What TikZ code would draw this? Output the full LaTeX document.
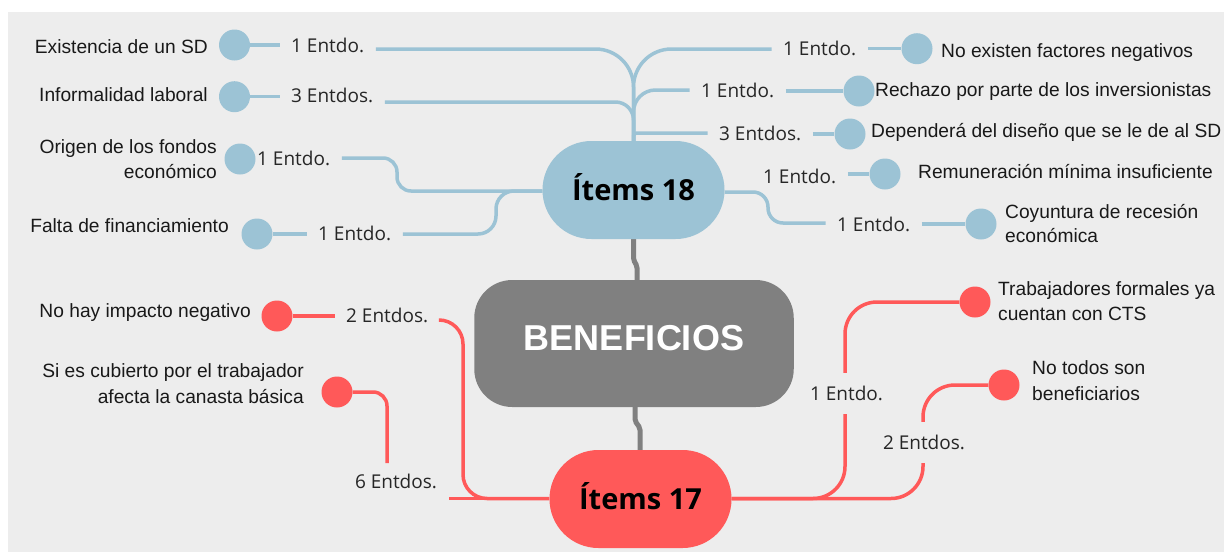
\documentclass[tikz,border=0pt]{standalone}
\usepackage{fontspec}
\setmainfont{Liberation Sans}
\newfontfamily\osans{Open Sans}
\usetikzlibrary{calc}
\definecolor{bgc}{HTML}{EDEDED}
\definecolor{blu}{HTML}{9CC3D5}
\definecolor{redc}{HTML}{FF5959}
\definecolor{gry}{HTML}{808080}
\pgfdeclarelayer{back}
\pgfsetlayers{back,main}
\begin{document}
\begin{tikzpicture}[x=1pt,y=-1pt,
  txt/.style={font=\fontsize{19.2}{25}\selectfont, inner sep=0pt, text=black!90},
  lbl/.style={font=\osans\fontsize{19}{23}\selectfont, inner xsep=11.5pt, inner ysep=0pt, text=black!85},
  vlbl/.style={lbl, fill=bgc, inner xsep=2pt, inner ysep=13pt, anchor=base},
  bdot/.style={circle, fill=blu, minimum size=31pt, inner sep=0pt},
  rdot/.style={circle, fill=redc, minimum size=31pt, inner sep=0pt},
  bline/.style={draw=blu, line width=3.5pt},
  rline/.style={draw=redc, line width=3.5pt},
  gline/.style={draw=gry, line width=5pt, rounded corners=2pt},
  hub/.style={rounded corners=48.9pt, minimum width=182pt, minimum height=98pt, inner sep=0pt,
    font=\osans\bfseries\fontsize{29}{32}\selectfont, text height=20.5pt, text depth=0pt, text=black},
]
\useasboundingbox (0,0) rectangle (1224,552);
% central nodes
\node[hub, fill=blu] (i18) at (633.5,190) {Ítems 18};
\node[rounded corners=38pt, fill=gry, minimum width=319.5pt, minimum height=127pt, inner sep=0pt,
  font=\bfseries\fontsize{36}{40}\selectfont, text=white, text height=26pt, text depth=12pt] (ben) at (634,343.5) {BENEFICIOS};
\node[hub, fill=redc] (i17) at (640.5,499) {Ítems 17};
% blue left
\node[bdot] (bc1) at (234.5,45) {};
\node[bdot] (bc2) at (234.5,96.7) {};
\node[bdot] (bc3) at (240,159) {};
\node[bdot] (bc4) at (257,234) {};
\node[txt, anchor=base east] (bt1) at (208,53) {Existencia de un SD};
\node[txt, anchor=base east] (bt2) at (208,101) {Informalidad laboral};
\node[txt, anchor=base east, align=right] (bt3) at (217,178.3) {Origen de los fondos\\económico};
\node[txt, anchor=base east] (bt4) at (229,232) {Falta de financiamiento};
\node[lbl, anchor=base west] (bl1) at (279.5,52) {1 Entdo.};
\node[lbl, anchor=base west] (bl2) at (279.5,102) {3 Entdos.};
\node[lbl, anchor=base west] (bl3) at (245.5,165) {1 Entdo.};
\node[lbl, anchor=base west] (bl4) at (306.5,240) {1 Entdo.};
% blue right
\node[bdot] (bc5) at (917,48.7) {};
\node[bdot] (bc6) at (859,91) {};
\node[bdot] (bc7) at (850,134) {};
\node[bdot] (bc8) at (885,174) {};
\node[bdot] (bc9) at (981,224) {};
\node[txt, anchor=base west] (bt5) at (941,57) {No existen factores negativos};
\node[txt, anchor=base west] (bt6) at (875,96.7) {Rechazo por parte de los inversionistas};
\node[txt, anchor=base west] (bt7) at (871,137.7) {Dependerá del diseño que se le de al SD};
\node[txt, anchor=base west] (bt8) at (918,178.3) {Remuneración mínima insuficiente};
\node[txt, anchor=base west, align=left, font=\fontsize{19.2}{24}\selectfont] (bt9) at (1005,242) {Coyuntura de recesión\\económica};
\node[lbl, anchor=base west] (bl5) at (771.5,55) {1 Entdo.};
\node[lbl, anchor=base west] (bl6) at (689.5,97.3) {1 Entdo.};
\node[lbl, anchor=base west] (bl7) at (707.5,140) {3 Entdos.};
\node[lbl, anchor=base west] (bl8) at (751.5,183) {1 Entdo.};
\node[lbl, anchor=base west] (bl9) at (825.5,231.7) {1 Entdo.};
% red
\node[rdot] (rc1) at (277,316) {};
\node[rdot] (rc2) at (337,392) {};
\node[rdot] (rc3) at (975,302) {};
\node[rdot] (rc4) at (1004,385) {};
\node[txt, anchor=base east] (rt1) at (251,317.3) {No hay impacto negativo};
\node[txt, anchor=base east, align=right, font=\fontsize{19.2}{26}\selectfont] (rt2) at (304,403.3) {Si es cubierto por el trabajador\\afecta la canasta básica};
\node[txt, anchor=base west, align=left] (rt3) at (998,320) {Trabajadores formales ya\\cuentan con CTS};
\node[txt, anchor=base west, align=left, font=\fontsize{19.2}{26}\selectfont] (rt4) at (1032,400.7) {No todos son\\beneficiarios};
\node[lbl, anchor=base west] (rl1) at (334.5,322.7) {2 Entdos.};
\node[lbl, anchor=base] (rl2) at (396,488.3) {6 Entdos.};
\node[vlbl] (rl3) at (846.5,400.7) {1 Entdo.};
\node[vlbl] (rl4) at (924,449.3) {2 Entdos.};
\coordinate (e6a) at (387,463);
\coordinate (e6b) at (449,498.5);
\begin{pgfonlayer}{back}
\fill[white] (0,0) rectangle (1224,552);
\fill[bgc] (8,12) rectangle (1224,552);
% gray
\draw[gline] (i18.south) -- (633.5,260) -- (637,266) -- (ben.north -| 637,0);
\draw[gline] (ben.south -| 635,0) -- (635,421) -- (640,428) -- (i17.north -| 640,0);
% blue left
\draw[bline] (bc1.east) -- (bc1.east -| bl1.west);
\draw[bline, rounded corners=38pt] (bl1.east |- 0,49) -| (i18.north);
\draw[bline] (bc2.east) -- (bc2.east -| bl2.west);
\draw[bline, rounded corners=18pt] (bl2.east |- 0,102) -| (i18.north);
\draw[bline, rounded corners=14pt] (bl3.east |- 0,158) -- (397,158) -- (397,191) -- (i18.west |- 0,191);
\draw[bline] (bc4.east) -- (bc4.east -| bl4.west);
\draw[bline, rounded corners=18pt] (bl4.east |- 0,234) -- (496,234) -- (496,191) -- (i18.west |- 0,191);
% blue right
\draw[bline, rounded corners=38pt] (bl5.west |- 0,49) -| (i18.north);
\draw[bline] (bl5.east |- bc5.west) -- (bc5.west);
\draw[bline, rounded corners=22pt] (bl6.west |- 0,90) -| (i18.north);
\draw[bline] (bl6.east |- bc6.west) -- (bc6.west);
\draw[bline, rounded corners=3pt] (bl7.west |- 0,133) -| (i18.north);
\draw[bline] (bl7.east |- bc7.west) -- (bc7.west);
\draw[bline] (bl8.east |- bc8.west) -- (bc8.west);
\draw[bline, rounded corners=15pt] (i18.east |- 0,192) -- (768,192) -- (768,223) -- (bl9.west |- 0,223);
\draw[bline] (bl9.east |- bc9.west) -- (bc9.west);
% red
\draw[rline] (rc1.east) -- (rc1.east -| rl1.west);
\draw[rline, rounded corners=24pt] (rl1.east |- 0,320) -- (463,320) -- (463,498.5) -- (i17.west |- 0,498.5);
\draw[rline, rounded corners=14pt] (rc2.east) -- (387,392) -- (e6a);
\draw[rline] (e6b) -- (i17.west |- 0,498.5);
\draw[rline, rounded corners=32pt] (i17.east |- 0,498.5) -- (845,498.5) -- (845,302) -- (rc3.west);
\draw[rline, rounded corners=32pt] (i17.east |- 0,498.5) -- (923,498.5) -- (923,385) -- (rc4.west);
\end{pgfonlayer}
\end{tikzpicture}
\end{document}
